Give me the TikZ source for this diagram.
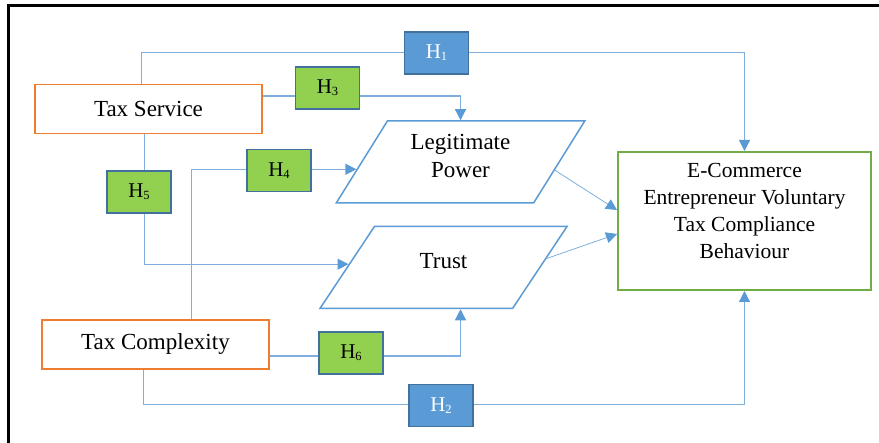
\documentclass[tikz,border=0pt]{standalone}
\usepackage{fontspec}
\setmainfont{Liberation Serif}
\usetikzlibrary{shapes.geometric,arrows.meta}

\definecolor{hblue}{HTML}{5B9BD5}
\definecolor{hgreen}{HTML}{92D050}
\definecolor{hborder}{HTML}{41719C}
\definecolor{boxorange}{HTML}{ED7D31}
\definecolor{boxgreen}{HTML}{70AD47}
\definecolor{linkblue}{HTML}{7EAFDE}

\newcommand{\hyp}[1]{H\raisebox{-2pt}{\fontsize{12.5}{13}\selectfont #1}}

\begin{document}
\begin{tikzpicture}
 [x=1pt, y=-1pt,
  factor node/.style={rectangle, draw=boxorange, line width=1.5pt, fill=white, minimum width=227pt, minimum height=49pt, font=\fontsize{23}{28}\selectfont},
  mediator node/.style={trapezium, trapezium left angle=59, trapezium right angle=121, trapezium stretches=true, draw=hblue, line width=1.5pt, fill=white, minimum width=249pt, minimum height=82pt, align=center, font=\fontsize{23}{28}\selectfont},
  outcome node/.style={rectangle, draw=boxgreen, line width=2pt, fill=white, minimum width=253pt, minimum height=138pt, align=center, text depth=21pt, font=\fontsize{21.5}{27}\selectfont},
  blue hyp/.style={rectangle, draw=hborder, line width=1.5pt, fill=hblue, text=white, minimum width=64pt, minimum height=42pt, font=\fontsize{21}{24}\selectfont},
  green hyp/.style={rectangle, draw=hborder, line width=1.5pt, fill=hgreen, minimum width=64pt, minimum height=42pt, font=\fontsize{21}{24}\selectfont},
  link/.style={draw=linkblue, line width=1.2pt, -{Triangle[width=11pt,length=11pt,color=hblue,fill=hblue]}}]

 \useasboundingbox (0,0) rectangle (879,443);
 \draw[line width=3pt] (879,6) -- (8,6) -- (8,443);

 \node[factor node] (service) at (148.5,109) {Tax Service};
 \node[factor node] (complexity) at (155.5,344.5) {Tax Complexity};

 \node[mediator node, text depth=12pt] (legit) at (460.5,162) {Legitimate\\Power};
 \node[mediator node, text depth=14pt] (trust) at (443.5,267.5) {Trust};

 \node[outcome node] (outcome) at (744.5,221) {E-Commerce\\Entrepreneur Voluntary\\Tax Compliance\\Behaviour};

 % paths from the two factors
 \draw[link] ([xshift=-7pt]service.north) -- ++(0,-31) -| (outcome.north);
 \draw[link] ([xshift=-12pt]complexity.south) -- ++(0,35) -| (outcome.south);
 \draw[link] ([yshift=13pt]service.east) -| (legit.north);
 \draw[link] ([xshift=36pt]complexity.north) |- (legit.184);
 \draw[link] ([xshift=-4pt]service.south) |- (trust.178);
 \draw[link] ([yshift=-11.5pt]complexity.east) -| (legit.north |- trust.south);

 % mediators to outcome
 \draw[link, line width=0.8pt] (legit.355) -- ([yshift=11pt]outcome.west);
 \draw[link, line width=0.8pt] (trust.5) -- ([yshift=-13pt]outcome.west);

 % hypothesis labels
 \node[blue hyp] (h1) at (436.5,53) {\hyp{1}};
 \node[blue hyp] (h2) at (441,405.5) {\hyp{2}};
 \node[green hyp] (h3) at (327.5,88) {\hyp{3}};
 \node[green hyp] (h4) at (279,170.5) {\hyp{4}};
 \node[green hyp] (h5) at (139,192) {\hyp{5}};
 \node[green hyp] (h6) at (351,353) {\hyp{6}};

\end{tikzpicture}
\end{document}
